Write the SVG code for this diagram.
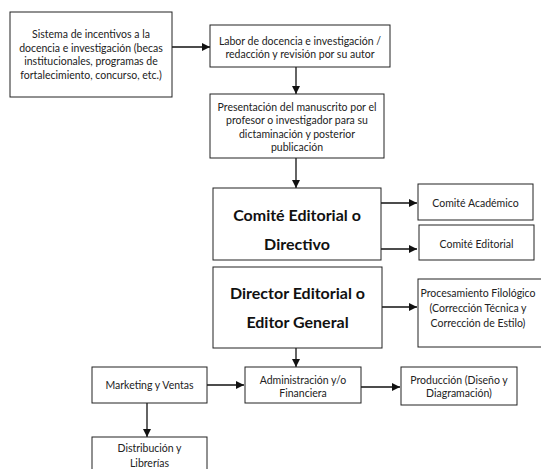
<svg xmlns="http://www.w3.org/2000/svg" width="541" height="469" viewBox="0 0 541 469">
<style>
.box{fill:#fff;stroke:#222;stroke-width:1}
.t{font-family:Lato,"Liberation Sans",sans-serif;font-size:10.5px;fill:#222;text-anchor:middle}
.b{font-family:Lato,"Liberation Sans",sans-serif;font-size:16px;font-weight:bold;fill:#111;text-anchor:middle}
.c{stroke:#111;stroke-width:1.3;fill:none;marker-end:url(#ah)}
</style>
<defs>
<marker id="ah" markerUnits="userSpaceOnUse" markerWidth="9" markerHeight="9" refX="8" refY="4" orient="auto">
<path d="M0,0 L8,4 L0,8 z" fill="#111"/>
</marker>
</defs>
<rect width="541" height="469" fill="#fff"/>
<g id="connectors">
<line class="c" x1="172" y1="47" x2="210" y2="47"/>
<line class="c" x1="296" y1="67" x2="296" y2="94"/>
<line class="c" x1="296" y1="158" x2="296" y2="188"/>
<line class="c" x1="381" y1="203" x2="417" y2="203"/>
<line class="c" x1="381" y1="249" x2="417" y2="249"/>
<line class="c" x1="382" y1="307" x2="417" y2="307"/>
<line class="c" x1="296" y1="348" x2="296" y2="367"/>
<line class="c" x1="207" y1="385" x2="244" y2="385"/>
<line class="c" x1="361" y1="387" x2="400" y2="387"/>
<line class="c" x1="147" y1="403" x2="147" y2="437"/>
</g>
<g id="incentivos">
<rect class="box" x="10" y="12" width="162" height="85"/>
<text class="t" x="91" y="38">Sistema de incentivos a la</text>
<text class="t" x="91" y="51.5">docencia e investigación (becas</text>
<text class="t" x="91" y="65">institucionales, programas de</text>
<text class="t" x="91" y="78.5">fortalecimiento, concurso, etc.)</text>
</g>
<g id="labor">
<rect class="box" x="210" y="25" width="180" height="42"/>
<text class="t" x="300" y="44.5">Labor de docencia e investigación /</text>
<text class="t" x="300" y="57.5">redacción y revisión por su autor</text>
</g>
<g id="presentacion">
<rect class="box" x="210" y="94" width="174" height="64"/>
<text class="t" x="297" y="111">Presentación del manuscrito por el</text>
<text class="t" x="297" y="124">profesor o investigador para su</text>
<text class="t" x="297" y="137.5">dictaminación y posterior</text>
<text class="t" x="297" y="150.5">publicación</text>
</g>
<g id="comite">
<rect class="box" x="213" y="188" width="168" height="72"/>
<text class="b" x="297" y="220.5">Comité Editorial o</text>
<text class="b" x="297" y="249.5">Directivo</text>
</g>
<g id="academico">
<rect class="box" x="418" y="184" width="115" height="36"/>
<text class="t" x="475.5" y="206.5">Comité Académico</text>
</g>
<g id="comite-editorial">
<rect class="box" x="419" y="225" width="115" height="35"/>
<text class="t" x="476.5" y="247.5">Comité Editorial</text>
</g>
<g id="director">
<rect class="box" x="213" y="267" width="169" height="81"/>
<text class="b" x="297.5" y="298.5">Director Editorial o</text>
<text class="b" x="297.5" y="327.5">Editor General</text>
</g>
<g id="procesamiento">
<rect class="box" x="418" y="279" width="124" height="68"/>
<text class="t" x="478" y="296.5">Procesamiento Filológico</text>
<text class="t" x="478" y="311.5">(Corrección Técnica y</text>
<text class="t" x="478" y="326.5">Corrección de Estilo)</text>
</g>
<g id="administracion">
<rect class="box" x="245" y="367" width="116" height="36"/>
<text class="t" x="303" y="383.5">Administración y/o</text>
<text class="t" x="303" y="397">Financiera</text>
</g>
<g id="produccion">
<rect class="box" x="401" y="367" width="116" height="38"/>
<text class="t" x="459" y="383.5">Producción (Diseño y</text>
<text class="t" x="459" y="397">Diagramación)</text>
</g>
<g id="marketing">
<rect class="box" x="92" y="367" width="115" height="36"/>
<text class="t" x="149.5" y="388.5">Marketing y Ventas</text>
</g>
<g id="distribucion">
<rect class="box" x="92" y="437" width="115" height="40"/>
<text class="t" x="149.5" y="451.5">Distribución y</text>
<text class="t" x="149.5" y="466.5">Librerías</text>
</g>
</svg>
